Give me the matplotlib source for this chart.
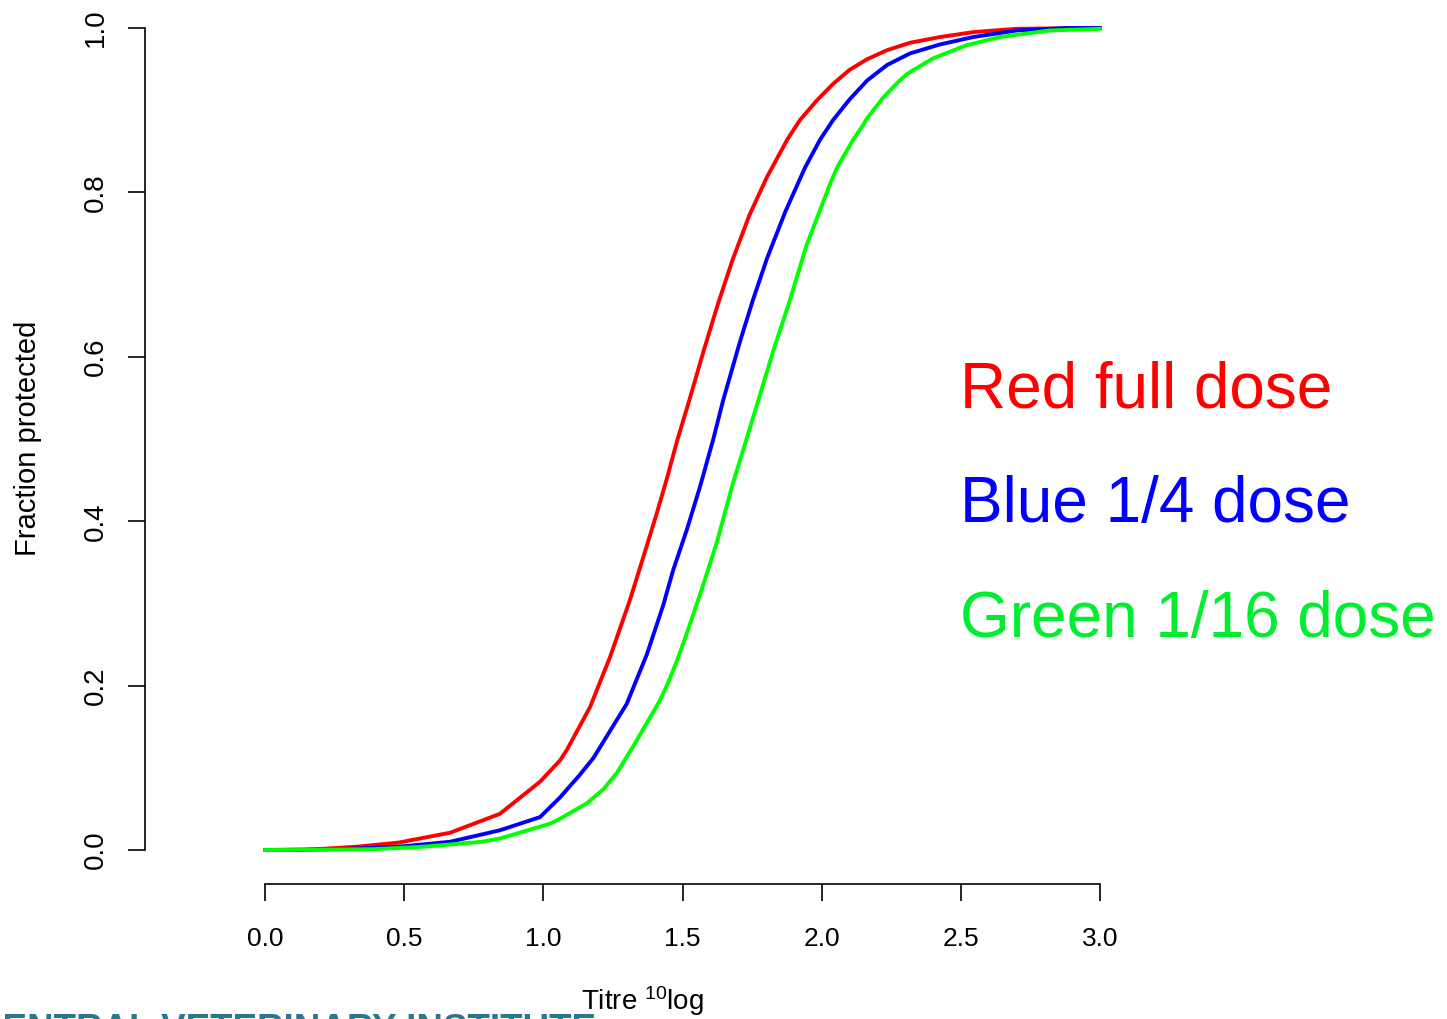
import matplotlib
matplotlib.use("Agg")
import matplotlib.pyplot as plt

plt.rcParams['font.family'] = ['Liberation Sans', 'DejaVu Sans']
plt.rcParams['mathtext.default'] = 'regular'

# curves (titre 10log vs fraction protected)
red_x = [0.0, 0.14, 0.33, 0.48, 0.665, 0.844, 0.988, 1.06, 1.085, 1.168, 1.24, 1.311, 1.358,
         1.408, 1.444, 1.48, 1.527, 1.574, 1.61, 1.63, 1.68, 1.74, 1.804, 1.876, 1.922, 1.983,
         2.041, 2.10, 2.163, 2.235, 2.317, 2.425, 2.545, 2.70, 3.0]
red_y = [0.0, 0.0, 0.004, 0.009, 0.021, 0.044, 0.083, 0.109, 0.122, 0.174, 0.235, 0.304, 0.355,
         0.41, 0.452, 0.497, 0.550, 0.605, 0.645, 0.667, 0.718, 0.772, 0.819, 0.864, 0.888, 0.912,
         0.932, 0.949, 0.962, 0.973, 0.982, 0.989, 0.995, 0.999, 1.0]

blue_x = [0.0, 0.27, 0.48, 0.665, 0.844, 0.988, 1.06, 1.13, 1.18, 1.2, 1.30, 1.372, 1.431, 1.466,
          1.516, 1.563, 1.61, 1.646, 1.707, 1.753, 1.804, 1.87, 1.94, 1.994, 2.041, 2.10, 2.163,
          2.235, 2.317, 2.425, 2.545, 2.70, 2.88, 3.0]
blue_y = [0.0, 0.001, 0.004, 0.01, 0.024, 0.040, 0.064, 0.091, 0.112, 0.123, 0.178, 0.238, 0.298,
          0.340, 0.390, 0.442, 0.499, 0.547, 0.619, 0.669, 0.720, 0.777, 0.830, 0.864, 0.888,
          0.913, 0.936, 0.955, 0.969, 0.980, 0.989, 0.997, 1.0, 1.0]

green_x = [0.0, 0.39, 0.57, 0.78, 0.844, 1.024, 1.06, 1.157, 1.216, 1.265, 1.335, 1.419, 1.444,
           1.48, 1.516, 1.552, 1.574, 1.624, 1.681, 1.732, 1.768, 1.825, 1.886, 1.945, 2.03,
           2.055, 2.113, 2.149, 2.163, 2.22, 2.271, 2.306, 2.40, 2.52, 2.64, 2.82, 3.0]
green_y = [0.0, 0.001, 0.004, 0.010, 0.014, 0.032, 0.038, 0.057, 0.074, 0.094, 0.133, 0.182, 0.200,
           0.230, 0.264, 0.300, 0.322, 0.375, 0.446, 0.502, 0.542, 0.606, 0.669, 0.735, 0.810,
           0.830, 0.864, 0.882, 0.890, 0.915, 0.933, 0.944, 0.963, 0.979, 0.989, 0.997, 0.999]

x_ticks = [0.0, 0.5, 1.0, 1.5, 2.0, 2.5, 3.0]
y_ticks = [0.0, 0.2, 0.4, 0.6, 0.8, 1.0]
labels = ['Red full dose', 'Blue 1/4 dose', 'Green 1/16 dose']

W, H = 1447, 1019
fig = plt.figure(figsize=(W / 100, H / 100), dpi=100)
ax = fig.add_axes([265 / W, 1 - 850 / H, (1100 - 265) / W, (850 - 28) / H])

ax.plot(red_x, red_y, color='#ff0000', lw=2.8, clip_on=False)
ax.plot(blue_x, blue_y, color='#0000ff', lw=2.8, clip_on=False)
ax.plot(green_x, green_y, color='#00ff00', lw=2.8, clip_on=False)

ax.set_xlim(0, 3)
ax.set_ylim(0, 1)
ax.set_xticks(x_ticks)
ax.set_xticklabels(['%.1f' % v for v in x_ticks])
ax.set_yticks(y_ticks)
ax.set_yticklabels(['%.1f' % v for v in y_ticks])

# R style detached axes
for s in ['top', 'right']:
    ax.spines[s].set_visible(False)
ax.spines['left'].set_position(('outward', 120 * 0.72))
ax.spines['bottom'].set_position(('outward', 34 * 0.72))
ax.spines['left'].set_linewidth(1.2)
ax.spines['bottom'].set_linewidth(1.2)
ax.tick_params(length=12, width=1.2)
ax.tick_params(axis='x', labelsize=19, pad=19)
ax.tick_params(axis='y', labelsize=20, pad=14, labelrotation=90)
for t in ax.get_yticklabels():
    t.set_va('center')

fig.text(28 / W, 1 - 438 / H, 'Fraction protected', fontsize=21, rotation=90,
         ha='center', va='center')
fig.text(643 / W, 1 - 1010 / H, 'Titre $^{10}$log', fontsize=20, ha='center', va='baseline')

colors = ['#ff0000', '#0000ff', '#00ee30']
ys = [407, 522, 637]
for lab, c, yp in zip(labels, colors, ys):
    fig.text(960 / W, 1 - yp / H, lab, color=c, fontsize=46, ha='left', va='baseline')

# cut-off institute name at the bottom edge
fig.text(-24 / W, 1 - 1013 / H, 'CENTRAL VETERINARY INSTITUTE', color='#2a7890',
         fontsize=26.5, fontweight='bold', va='top', ha='left')

fig.savefig('out.png', dpi=100)
